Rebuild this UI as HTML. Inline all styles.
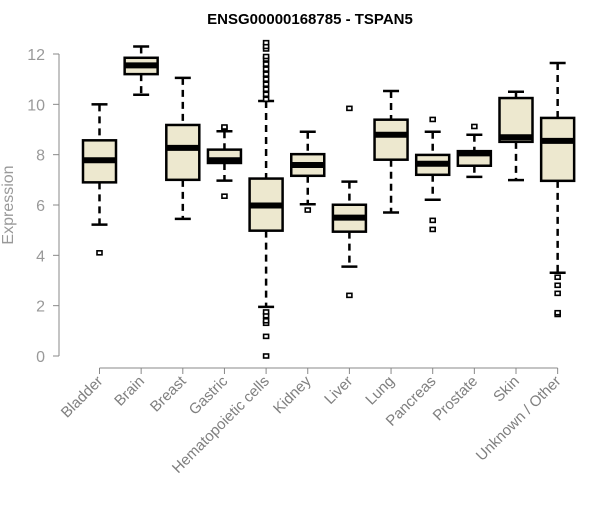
<!DOCTYPE html>
<html><head><meta charset="utf-8"><style>
html,body{margin:0;padding:0;background:#fff;}
svg text{font-family:"Liberation Sans",Arial,sans-serif;}
</style></head><body>
<svg id="chart" width="600" height="500" xmlns="http://www.w3.org/2000/svg">
<text x="310" y="24" text-anchor="middle" font-size="15" font-weight="bold">ENSG00000168785 - TSPAN5</text>
<text x="13" y="205" text-anchor="middle" font-size="16" fill="#999" transform="rotate(-90 13 205)">Expression</text>
<g id="axes"></g><g id="boxes"></g>
</svg>
<script>
const categories=["Bladder","Brain","Breast","Gastric","Hematopoietic cells","Kidney","Liver","Lung","Pancreas","Prostate","Skin","Unknown / Other"];
const whiskerLow=[5.22,10.38,5.45,6.97,1.95,6.03,3.55,5.7,6.21,7.12,6.99,3.31];
const q1=[6.9,11.2,7.0,7.67,4.98,7.16,4.94,7.8,7.2,7.56,8.51,6.96];
const medians=[7.78,11.55,8.27,7.78,5.98,7.59,5.5,8.79,7.64,8.05,8.69,8.55];
const q3=[8.57,11.85,9.18,8.2,7.05,8.02,6.01,9.39,7.99,8.14,10.25,9.46];
const whiskerHigh=[10.0,12.3,11.05,8.93,10.13,8.91,6.93,10.53,8.91,8.79,10.5,11.64];
const outliers=[[4.1],[],[],[6.35,9.05,9.1],[0,0.78,1.3,1.4,1.6,1.75,10.2,10.4,10.6,10.8,11.0,11.2,11.4,11.6,11.8,11.9,12.2,12.3,12.45],[5.8],[2.41,9.84],[],[5.03,5.39,9.4],[9.12],[],[1.65,1.72,2.49,2.81,3.13]];
const yTicks=[0,2,4,6,8,10,12];
const NS="http://www.w3.org/2000/svg";
function y(v){return 356-v*(302/12);}
function x(i){return 99.5+i*41.65;}
function mk(t,a,p){const e=document.createElementNS(NS,t);for(const k in a)e.setAttribute(k,a[k]);p.appendChild(e);return e;}
const ax=document.getElementById('axes'),bx=document.getElementById('boxes');
let l=mk('line',{x1:59,x2:59,y1:y(12),y2:y(0),stroke:'#888'},ax);

yTicks.forEach(v=>{
 let t=mk('line',{x1:53,x2:59,y1:y(v),y2:y(v),stroke:'#888'},ax);
 
 let tx=mk('text',{x:45,y:y(v)+6,'text-anchor':'end','font-size':16,fill:'#999'},ax);tx.textContent=v;
 
});
l=mk('line',{x1:x(0),x2:x(11),y1:368,y2:368,stroke:'#888'},ax);

categories.forEach((c,i)=>{
 let t=mk('line',{x1:x(i),x2:x(i),y1:368,y2:374,stroke:'#888'},ax);
 
 let tx=mk('text',{x:x(i)+4,y:382,'text-anchor':'end','font-size':15,fill:'#7f7f7f',transform:`rotate(-45 ${x(i)+4} 382)`},ax);tx.textContent=c;
 
 const g=mk('g',{},bx);
 
 
 const cx=x(i);
 mk('line',{x1:cx,x2:cx,y1:y(whiskerHigh[i]),y2:y(q3[i]),stroke:'#000','stroke-width':2.5,'stroke-dasharray':'7,5'},g);
 mk('line',{x1:cx,x2:cx,y1:y(q1[i]),y2:y(whiskerLow[i]),stroke:'#000','stroke-width':2.5,'stroke-dasharray':'7,5'},g);
 mk('line',{x1:cx-8,x2:cx+8,y1:y(whiskerHigh[i]),y2:y(whiskerHigh[i]),stroke:'#000','stroke-width':2.5},g);
 mk('line',{x1:cx-8,x2:cx+8,y1:y(whiskerLow[i]),y2:y(whiskerLow[i]),stroke:'#000','stroke-width':2.5},g);
 mk('rect',{x:cx-16.5,y:y(q3[i]),width:33,height:y(q1[i])-y(q3[i]),fill:'#ede8cf',stroke:'#000','stroke-width':2.5},g);
 mk('line',{x1:cx-16.5,x2:cx+16.5,y1:y(medians[i]),y2:y(medians[i]),stroke:'#000','stroke-width':6},g);
 outliers[i].forEach(o=>{
  let p=mk('rect',{x:cx-2.5,y:y(o)-2,width:5,height:4,fill:'#fff',stroke:'#000','stroke-width':1.6},g);
  
 });
});
</script>
</body></html>
